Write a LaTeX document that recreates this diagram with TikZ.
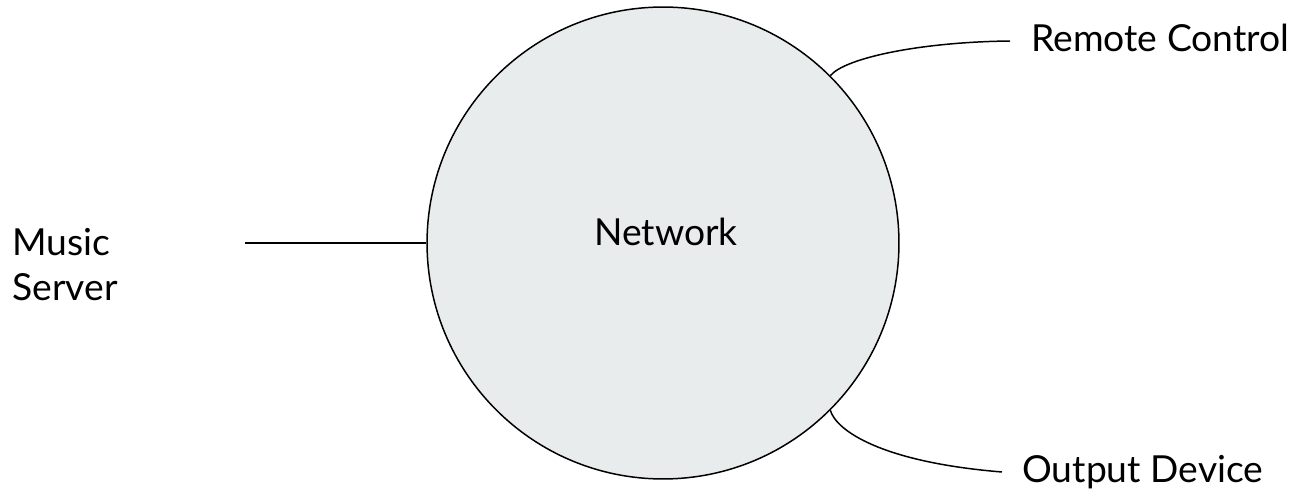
\documentclass[tikz,border=0pt]{standalone}
\usepackage{fontspec}
\setmainfont{Lato}
\definecolor{netfill}{RGB}{233,236,236}
\begin{document}
\begin{tikzpicture}[x=0.02cm,y=-0.02cm,
  lbl/.style={inner sep=0pt,font=\fontsize{21.2}{25.5}\selectfont},
  netcircle/.style={circle,draw=black,fill=netfill,line width=0.85pt,minimum size=9.44cm,inner sep=0pt},
  link/.style={draw=black,line width=0.85pt}]
\useasboundingbox (0,0) rectangle (1297,493);
\node[netcircle] (net) at (663,243) {};
\node[lbl,anchor=base] (netlabel) at (666,245) {Network};
\node[lbl,anchor=base west,align=left] (music) at (12,300) {Music\\Server};
\node[lbl,anchor=base west] (remote) at (1031,52) {Remote Control};
\node[lbl,anchor=base west] (output) at (1022,482) {Output Device};
\coordinate (musicend) at (245,243);
\coordinate (remoteend) at (1010,41);
\coordinate (outputend) at (1002,472);
\draw[link] (musicend) -- (net.west);
\draw[link] (net.45) .. controls (845,58) and (920,42) .. (remoteend);
\draw[link] (net.-45) .. controls (836,430) and (880,462) .. (outputend);
\end{tikzpicture}
\end{document}
